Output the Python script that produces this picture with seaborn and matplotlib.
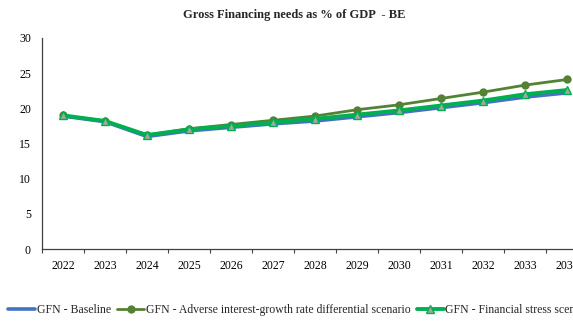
import matplotlib
matplotlib.use("Agg")
import matplotlib.pyplot as plt
import seaborn as sns
import pandas as pd
import numpy as np
from matplotlib.ticker import FixedLocator, NullFormatter

years = [2022, 2023, 2024, 2025, 2026, 2027, 2028, 2029, 2030, 2031, 2032, 2033, 2034]
baseline = [18.9, 18.1, 16.0, 16.8, 17.3, 17.8, 18.2, 18.8, 19.4, 20.1, 20.8, 21.6, 22.2]
adverse = [19.0, 18.2, 16.2, 17.1, 17.7, 18.3, 18.9, 19.8, 20.5, 21.4, 22.3, 23.3, 24.1]
stress = [19.0, 18.2, 16.2, 17.0, 17.5, 18.0, 18.5, 19.1, 19.7, 20.4, 21.1, 22.0, 22.6]

labels = ["GFN - Baseline",
          "GFN - Adverse interest-growth rate differential scenario",
          "GFN - Financial stress scenario"]
yticks = [0, 5, 10, 15, 20, 25, 30]

sns.set_theme(style="white")
plt.rcParams["font.family"] = ["Liberation Serif", "DejaVu Serif"]

df = pd.DataFrame({"year": years, "baseline": baseline,
                   "adverse": adverse, "stress": stress})

fig = plt.figure(figsize=(5.73, 3.36), dpi=100)
ax = fig.add_axes([42 / 573, 87 / 336, 546 / 573, 211 / 336])

sns.lineplot(data=df, x="year", y="baseline", ax=ax, color="#4472C4",
             linewidth=2.6, label=labels[0])
sns.lineplot(data=df, x="year", y="adverse", ax=ax, color="#548235",
             linewidth=2.0, marker="o", markersize=6, markeredgewidth=0,
             label=labels[1])
sns.lineplot(data=df, x="year", y="stress", ax=ax, color="#00B050",
             linewidth=2.8, marker="^", markersize=5.5,
             markerfacecolor="#A5A5A5", markeredgecolor="#00B050",
             markeredgewidth=1.0, label=labels[2])

ax.set_xlim(years[0] - 0.5, years[-1] + 0.5)
ax.set_ylim(0, 30)
ax.set_yticks(yticks)
ax.set_xticks(years)
ax.xaxis.set_minor_locator(FixedLocator([y - 0.5 for y in years] + [years[-1] + 0.5]))
ax.xaxis.set_minor_formatter(NullFormatter())
ax.tick_params(axis="x", which="major", length=0, pad=8, labelsize=8.5, colors="#000000")
ax.tick_params(axis="x", which="minor", length=3, width=0.8, color="#404040", direction="out", bottom=True)
ax.tick_params(axis="y", which="major", length=0, pad=8, labelsize=8.5, colors="#000000")

for side in ["top", "right"]:
    ax.spines[side].set_visible(False)
for side in ["left", "bottom"]:
    ax.spines[side].set_color("#404040")
    ax.spines[side].set_linewidth(0.9)

ax.set_xlabel("")
ax.set_ylabel("")
ax.grid(False)

fig.text(294 / 573, 1 - 15 / 336, "Gross Financing needs as % of GDP  - BE",
         ha="center", va="center", fontsize=9, fontweight="bold")

ax.legend_.remove()
handles, lbls = ax.get_legend_handles_labels()
fig.legend(handles, lbls, loc="center left", bbox_to_anchor=(8 / 573, 1 - 310 / 336),
           ncol=3, frameon=False, fontsize=8.5, handlelength=2.3,
           handletextpad=0.15, columnspacing=0.5, borderaxespad=0, borderpad=0)

fig.savefig("out.png", dpi=100)
